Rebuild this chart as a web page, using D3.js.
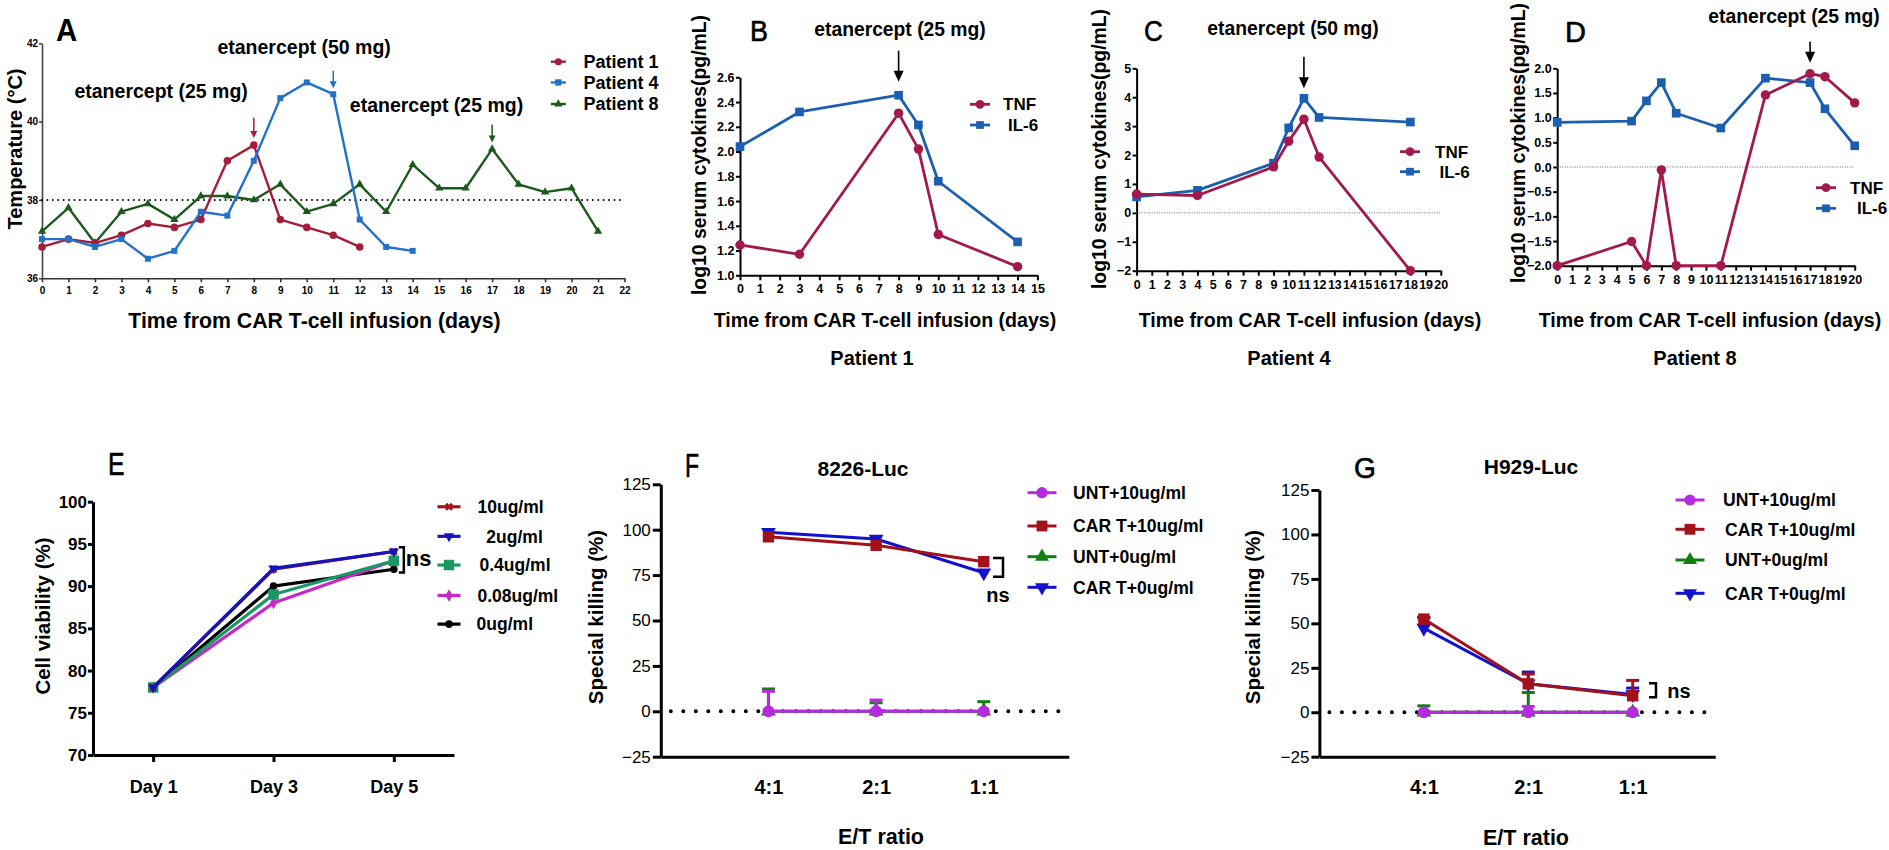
<!DOCTYPE html>
<html><head><meta charset="utf-8">
<script src="https://cdn.jsdelivr.net/npm/d3@7"></script>
<style>
body{margin:0;background:#fff;}
svg text{font-family:"Liberation Sans",Arial,Helvetica,sans-serif;fill:#000;}
</style></head><body>
<svg id="c" width="1889" height="850"></svg>
<script>
// ---------------- DATA ----------------
// Panel A: temperature
const daysP1 = [0,1,2,3,4,5,6,7,8,9,10,11,12];
const tempP1 = [36.8,37.0,36.9,37.1,37.4,37.3,37.5,39.0,39.4,37.5,37.3,37.1,36.8];
const daysP4 = [0,1,2,3,4,5,6,7,8,9,10,11,12,13,14];
const tempP4 = [37.0,37.0,36.8,37.0,36.5,36.7,37.7,37.6,39.0,40.6,41.0,40.7,37.5,36.8,36.7];
const daysP8 = [0,1,2,3,4,5,6,7,8,9,10,11,12,13,14,15,16,17,18,19,20,21];
const tempP8 = [37.2,37.8,36.9,37.7,37.9,37.5,38.1,38.1,38.0,38.4,37.7,37.9,38.4,37.7,38.9,38.3,38.3,39.3,38.4,38.2,38.3,37.2];
const patientNames = ["Patient 1","Patient 4","Patient 8"];
const tempTicksY = [36,38,40,42];
const tempTicksX = [0,1,2,3,4,5,6,7,8,9,10,11,12,13,14,15,16,17,18,19,20,21,22];
const feverThreshold = 38;

// Panel B: patient 1 cytokines
const daysB = [0,3,8,9,10,14];
const tnfB = [1.245,1.17,2.31,2.02,1.33,1.07];
const il6B = [2.04,2.32,2.455,2.215,1.76,1.27];
const ticksBy = [1.0,1.2,1.4,1.6,1.8,2.0,2.2,2.4,2.6];
const ticksBx = [0,1,2,3,4,5,6,7,8,9,10,11,12,13,14,15];

// Panel C: patient 4 cytokines
const daysC = [0,4,9,10,11,12,18];
const tnfC = [0.65,0.60,1.59,2.48,3.24,1.93,-2.0];
const il6C = [0.55,0.78,1.72,2.94,3.96,3.30,3.14];
const ticksCy = [-2,-1,0,1,2,3,4,5];
const ticksCx = [0,1,2,3,4,5,6,7,8,9,10,11,12,13,14,15,16,17,18,19,20];

// Panel D: patient 8 cytokines
const daysD = [0,5,6,7,8,11,14,17,18,20];
const tnfD = [-2.0,-1.51,-2.0,-0.06,-2.0,-2.0,1.46,1.89,1.83,1.30];
const il6D = [0.905,0.93,1.34,1.71,1.09,0.79,1.80,1.71,1.18,0.43];
const ticksDy = [-2.0,-1.5,-1.0,-0.5,0.0,0.5,1.0,1.5,2.0];
const ticksDx = [0,1,2,3,4,5,6,7,8,9,10,11,12,13,14,15,16,17,18,19,20];
const cytoNames = ["TNF","IL-6"];

// Panel E: cell viability
const daysE = ["Day 1","Day 3","Day 5"];
const concNames = ["10ug/ml"," 2ug/ml","0.4ug/ml","0.08ug/ml","0ug/ml"];
const viab10 = [78,92,94.1];
const viab2 = [78,92.1,94.1];
const viab04 = [78,89,93];
const viab008 = [78,88,93];
const viab0 = [78,90,92];
const ticksEy = [70,75,80,85,90,95,100];

// Panel F / G: special killing
const ratios = ["4:1","2:1","1:1"];
const groupNames = ["UNT+10ug/ml","CAR T+10ug/ml","UNT+0ug/ml","CAR T+0ug/ml"];
const fUnt10 = [0,0,0],       fUnt10Err = [11,6.2,0];
const fCar10 = [96.1,91.4,82.4], fCar10Err = [0,0,0];
const fUnt0 = [0,0,0],        fUnt0Err = [12.3,4.7,5.3];
const fCar0 = [98.6,94.9,76.3], fCar0Err = [0,0,0];
const gUnt10 = [0,0,0],       gUnt10Err = [0,3.3,0];
const gCar10 = [52.4,16.0,9.3], gCar10Err = [1,5.5,8.6];
const gUnt0 = [0,0,0],        gUnt0Err = [3.6,11.1,0];
const gCar0 = [47.3,16.0,10.0], gCar0Err = [6,6.6,3.6];
const ticksKy = [-25,0,25,50,75,100,125];

// ---------------- HELPERS ----------------
const svg = d3.select("#c");
const FONT = '"Liberation Sans",Arial,Helvetica,sans-serif';

function styleAxis(sel, size, weight, width, color){
  sel.attr("font-family",null).attr("font-size",null);
  sel.select(".domain").attr("stroke",color||"#000").attr("stroke-width",width);
  sel.selectAll(".tick line").attr("stroke",color||"#000").attr("stroke-width",width);
  sel.selectAll(".tick text").attr("fill","#000")
     .style("font-size",size+"px").style("font-weight",weight).style("font-family",FONT);
}
function txt(x,y,s,size,opts){
  opts = opts||{};
  const t = svg.append("text").attr("x",x).attr("y",y).text(s)
    .style("font-size",size+"px").style("font-weight",opts.weight||"bold")
    .attr("text-anchor",opts.anchor||"middle");
  if(opts.rotate) t.attr("transform",`rotate(-90,${x},${y})`);
  return t;
}
function letter(x,y,s,size,sx,weight){
  svg.append("text").attr("transform",`translate(${x},${y}) scale(${sx},1)`).text(s)
    .style("font-size",size+"px").style("font-weight",weight||"normal").attr("text-anchor","start")
    .style("stroke","#000").style("stroke-width",weight==="bold"?0:0.6);
}
function series(g, xs, ys, xs_, ys_, color, lw, sym, size, rot){
  const pts = xs.map((d,i)=>[xs_(d), ys_(ys[i])]);
  g.append("path").attr("d", d3.line()(pts)).attr("fill","none")
    .attr("stroke",color).attr("stroke-width",lw).attr("stroke-linejoin","round");
  g.selectAll(null).data(pts).enter().append("path")
    .attr("d", d3.symbol().type(sym).size(size)())
    .attr("transform", d=>`translate(${d[0]},${d[1]}) rotate(${rot||0})`)
    .attr("fill",color);
}
function legendItem(g, x, y, color, sym, size, rot, lineHalf, lw, label, tx, fs){
  g.append("line").attr("x1",x-lineHalf).attr("x2",x+lineHalf).attr("y1",y).attr("y2",y)
    .attr("stroke",color).attr("stroke-width",lw);
  g.append("path").attr("d", d3.symbol().type(sym).size(size)())
    .attr("transform",`translate(${x},${y}) rotate(${rot||0})`).attr("fill",color);
  g.append("text").attr("x",tx).attr("y",y+fs*0.36).text(label)
    .style("font-size",fs+"px").style("font-weight","bold").style("white-space","pre");
}
function arrow(g, x, y1, y2, color, lw, hw, hh){
  g.append("line").attr("x1",x).attr("x2",x).attr("y1",y1).attr("y2",y2-hh+1)
    .attr("stroke",color).attr("stroke-width",lw);
  g.append("path").attr("d",`M${x-hw/2},${y2-hh} L${x+hw/2},${y2-hh} L${x},${y2} Z`).attr("fill",color);
}

// ---------------- PANEL A ----------------
{
  const g = svg.append("g");
  const x = d3.scaleLinear().domain([0,22]).range([42,624.5]);
  const y = d3.scaleLinear().domain([36,42]).range([278.3,43.3]);
  g.append("g").attr("transform",`translate(0,${y(36)})`)
    .call(d3.axisBottom(x).tickValues(tempTicksX).tickSize(4).tickPadding(5).tickSizeOuter(0))
    .call(s=>styleAxis(s,10,"bold",1.6,"#333"));
  g.append("g").attr("transform",`translate(${x(0)},0)`)
    .call(d3.axisLeft(y).tickValues(tempTicksY).tickFormat(d3.format("d")).tickSize(3).tickPadding(1).tickSizeOuter(0))
    .call(s=>styleAxis(s,10,"bold",1.6,"#444"));
  g.append("line").attr("x1",x(0)).attr("x2",x(21.85)).attr("y1",y(feverThreshold)).attr("y2",y(feverThreshold))
    .attr("stroke","#000").attr("stroke-width",2).attr("stroke-dasharray","0,5.4").attr("stroke-linecap","round");
  const cA = ["#a51d3a","#2272c9","#1c5a1c"];
  series(g, daysP8, tempP8, x, y, cA[2], 2.4, d3.symbolTriangle, 30);
  series(g, daysP1, tempP1, x, y, cA[0], 2.4, d3.symbolCircle, 45);
  series(g, daysP4, tempP4, x, y, cA[1], 2.4, d3.symbolSquare, 36);
  arrow(g, x(8), y(40.1), y(39.58), cA[0], 1.5, 7, 7);
  arrow(g, x(11), y(41.3), y(40.85), cA[1], 1.5, 7, 7);
  arrow(g, x(17), y(39.93), y(39.47), cA[2], 1.5, 7, 7);
  txt(x(4.5), y(40.77)+7, "etanercept (25 mg)", 19.5);
  txt(x(9.9), y(41.9)+7, "etanercept (50 mg)", 19.5);
  txt(x(14.9), y(40.42)+7, "etanercept (25 mg)", 19.5);
  const syms = [d3.symbolCircle, d3.symbolSquare, d3.symbolTriangle];
  const ly = [41.53, 41.0, 40.45];
  patientNames.forEach((n,i)=>legendItem(g, x(19.5), y(ly[i]), cA[i], syms[i], i==2?30:40, 0, 7.5, 2.4, n, x(20.45), 18));
  letter(56, 41, "A", 31, 0.95, "bold");
  txt(22, 149, "Temperature (°C)", 20, {rotate:true});
  txt(314.5, 328, "Time from CAR T-cell infusion (days)", 21.3);
}

// ---------------- PANELS B, C, D ----------------
const cTNF = "#a3194c", cIL6 = "#1c5fb0";
function cytoPanel(o){
  const g = svg.append("g");
  const x = d3.scaleLinear().domain(o.xd).range(o.xr);
  const y = d3.scaleLinear().domain(o.yd).range(o.yr);
  g.append("g").attr("transform",`translate(0,${o.yr[0]})`)
    .call(d3.axisBottom(x).tickValues(o.tx).tickSize(5).tickPadding(4).tickSizeOuter(0))
    .call(s=>styleAxis(s,12.5,"bold",2));
  g.append("g").attr("transform",`translate(${o.xr[0]},0)`)
    .call(d3.axisLeft(y).tickValues(o.ty).tickSize(4).tickPadding(1.5).tickSizeOuter(0).tickFormat(o.fmt))
    .call(s=>styleAxis(s,12.5,"bold",2));
  if(o.zero){
    g.append("line").attr("x1",o.xr[0]).attr("x2",o.xr[1]).attr("y1",y(0)).attr("y2",y(0))
      .attr("stroke","#666").attr("stroke-width",1).attr("stroke-dasharray","1,1.5");
  }
  series(g, o.days, o.il6, x, y, cIL6, 2.8, d3.symbolSquare, 75);
  series(g, o.days, o.tnf, x, y, cTNF, 2.8, d3.symbolCircle, 70);
  arrow(g, x(o.arrowDay), o.arrowY[0], o.arrowY[1], "#000", 1.6, 10, 11);
  txt(o.noteX, o.noteY, o.note, 19.3);
  legendItem(g, o.legX, o.legY[0], cTNF, d3.symbolCircle, 60, 0, 10, 2.8, cytoNames[0], o.legTx[0], 17);
  legendItem(g, o.legX, o.legY[1], cIL6, d3.symbolSquare, 60, 0, 10, 2.8, cytoNames[1], o.legTx[1], 17);
  letter(o.letterX, o.letterY, o.letter, 29, o.letterSx);
  txt(o.ytX, o.ytY, "log10 serum cytokines(pg/mL)", 19.4, {rotate:true});
  txt(o.xtX, 327, "Time from CAR T-cell infusion (days)", 19.6);
  txt(o.ptX, 365, o.patient, 20);
}
cytoPanel({xd:[0,15], xr:[740,1037.4], yd:[1.0,2.6], yr:[275.3,77.3], tx:ticksBx, ty:ticksBy, fmt:d3.format(".1f"),
  days:daysB, tnf:tnfB, il6:il6B, arrowDay:8, arrowY:[50.7,81.7], note:"etanercept (25 mg)", noteX:900, noteY:36,
  legX:980, legY:[104.3,125], legTx:[1003,1008], letter:"B", letterX:750, letterY:41, letterSx:0.93, ytX:706, ytY:155, xtX:885, ptX:872, patient:patientNames[0]});
cytoPanel({xd:[0,20], xr:[1136.6,1440.8], yd:[-2,5], yr:[270.7,68.3], tx:ticksCx, ty:ticksCy, fmt:d3.format("d"), zero:true,
  days:daysC, tnf:tnfC, il6:il6C, arrowDay:11, arrowY:[56.7,88.3], note:"etanercept (50 mg)", noteX:1293, noteY:35,
  legX:1410, legY:[151.7,171.7], legTx:[1435,1439.5], letter:"C", letterX:1144, letterY:41, letterSx:0.9, ytX:1106, ytY:149, xtX:1310, ptX:1289, patient:patientNames[1]});
cytoPanel({xd:[0,20], xr:[1557.2,1854.7], yd:[-2,2], yr:[265.7,68.3], tx:ticksDx, ty:ticksDy, fmt:d3.format(".1f"), zero:true,
  days:daysD, tnf:tnfD, il6:il6D, arrowDay:17, arrowY:[41.7,62.7], note:"etanercept (25 mg)", noteX:1794, noteY:22.5,
  legX:1826, legY:[187.7,208.3], legTx:[1850,1857], letter:"D", letterX:1565, letterY:42, letterSx:1.0, ytX:1525, ytY:143, xtX:1710, ptX:1695, patient:patientNames[2]});

// ---------------- PANEL E ----------------
{
  const g = svg.append("g");
  const x = d3.scalePoint().domain(daysE).range([93,454]).padding(0.5);
  const y = d3.scaleLinear().domain([70,100]).range([755,501.7]);
  g.append("g").attr("transform",`translate(0,${y(70)})`)
    .call(d3.axisBottom(x).tickSize(7).tickPadding(18).tickSizeOuter(0))
    .call(s=>styleAxis(s,18,"bold",3));
  g.append("g").attr("transform",`translate(93,0)`)
    .call(d3.axisLeft(y).tickValues(ticksEy).tickSize(5).tickPadding(1).tickSizeOuter(0))
    .call(s=>styleAxis(s,17,"bold",3));
  const cE = ["#a5141c","#1414b8","#1a9863","#c629c6","#000000"];
  const vals = [viab10, viab2, viab04, viab008, viab0];
  const syms = [d3.symbolCross, d3.symbolTriangle, d3.symbolSquare, d3.symbolDiamond, d3.symbolCircle];
  const sizes = [40, 45, 110, 45, 45];
  const rots = [45,180,0,0,0];
  [4,3,2,0,1].forEach(i=>series(g, daysE, vals[i], x, y, cE[i], 3.2, syms[i], sizes[i], rots[i]));
  const ly = [99.4,95.9,92.5,88.9,85.5];
  const ltx = [477.5,481.5,479.5,477.5,476.6];
  concNames.forEach((n,i)=>legendItem(g, 449, y(ly[i]), cE[i], syms[i], sizes[i], rots[i], 11.5, 3.2, n, ltx[i], 17.5));
  const bx = x("Day 5")+5;
  g.append("path").attr("d",`M${bx},${y(94.6)} H${bx+5} V${y(91.6)} H${bx}`).attr("fill","none").attr("stroke","#000").attr("stroke-width",2.5);
  txt(bx+7, y(93.1)+6, "ns", 22, {anchor:"start"});
  letter(108, 475, "E", 31, 0.8);
  txt(50, 616, "Cell viability (%)", 20.5, {rotate:true});
}

// ---------------- PANELS F, G ----------------
const cK = ["#b52ae0","#a3121a","#118011","#1212cc"];
function killPanel(o){
  const g = svg.append("g");
  const x = d3.scaleLinear().domain([0,3.79]).range(o.xr);
  const y = d3.scaleLinear().domain([-25,125]).range(o.yr);
  const idx = [1,2,3];
  g.append("g").attr("transform",`translate(0,${o.yr[0]})`)
    .call(d3.axisBottom(x).tickValues(idx).tickFormat((d,i)=>ratios[i]).tickSize(0).tickPadding(23))
    .call(s=>styleAxis(s,20,"bold",3));
  g.append("g").attr("transform",`translate(${o.xr[0]},0)`)
    .call(d3.axisLeft(y).tickValues(ticksKy).tickSize(8).tickPadding(2).tickSizeOuter(0))
    .call(s=>styleAxis(s,17,"normal",3));
  g.append("line").attr("x1",o.xr[0]+10).attr("x2",o.xr[1]).attr("y1",y(0)).attr("y2",y(0))
    .attr("stroke","#000").attr("stroke-width",4).attr("stroke-dasharray","0,12.5").attr("stroke-linecap","round");
  const order = [2,3,1,0];
  const syms = [d3.symbolCircle, d3.symbolSquare, d3.symbolTriangle, d3.symbolTriangle];
  const sizes = [110,130,95,95];
  const rots = [0,0,0,180];
  order.forEach(i=>{
    const v = o.vals[i], e = o.errs[i];
    idx.forEach((k,j)=>{
      if(e[j]>0){
        const xx = x(k), y0 = y(v[j]), y1 = y(v[j]+e[j]);
        g.append("line").attr("x1",xx).attr("x2",xx).attr("y1",y0).attr("y2",y1).attr("stroke",cK[i]).attr("stroke-width",3);
        g.append("line").attr("x1",xx-6.5).attr("x2",xx+6.5).attr("y1",y1).attr("y2",y1).attr("stroke",cK[i]).attr("stroke-width",3);
      }
    });
    series(g, idx, v, x, y, cK[i], 3, syms[i], sizes[i], rots[i]);
  });
  groupNames.forEach((n,i)=>legendItem(g, o.legX, o.legY[i], cK[i], syms[i], sizes[i]*0.9, rots[i], 14.5, 3, n, o.legTx[i], 17.6));
  g.append("path").attr("d",`M${o.br[0]},${o.br[1]} H${o.br[0]+o.br[3]} V${o.br[2]} H${o.br[0]}`).attr("fill","none").attr("stroke","#000").attr("stroke-width",2.5);
  txt(o.ns[0], o.ns[1], "ns", 20);
  txt(o.title[0], o.title[1], o.title[2], 21);
  letter(o.letter[0], o.letter[1], o.letter[2], o.letter[3], o.letter[4]);
  txt(o.yt[0], o.yt[1], "Special killing (%)", 20.5, {rotate:true});
  txt(o.xt[0], o.xt[1], "E/T ratio", 21.5);
}
killPanel({xr:[660.8,1068.8], yr:[756.7,484.3],
  vals:[fUnt10,fCar10,fUnt0,fCar0], errs:[fUnt10Err,fCar10Err,fUnt0Err,fCar0Err],
  legX:1042, legY:[492.7,526,556.7,587.3], legTx:[1073,1073,1073,1073],
  br:[993,558,576.7,10], ns:[998,602], title:[863,475.5,"8226-Luc"], letter:[685,477,"F",33,0.7], yt:[603,617], xt:[881,844]});
killPanel({xr:[1319.4,1715.2], yr:[756.7,490],
  vals:[gUnt10,gCar10,gUnt0,gCar0], errs:[gUnt10Err,gCar10Err,gUnt0Err,gCar0Err],
  legX:1690, legY:[500,529.3,560,593.3], legTx:[1723,1725,1725,1725],
  br:[1649,683.3,697.3,7], ns:[1679,697.5], title:[1531,474,"H929-Luc"], letter:[1354,478,"G",29,0.97], yt:[1260,617], xt:[1526,845]});
</script>
</body></html>
